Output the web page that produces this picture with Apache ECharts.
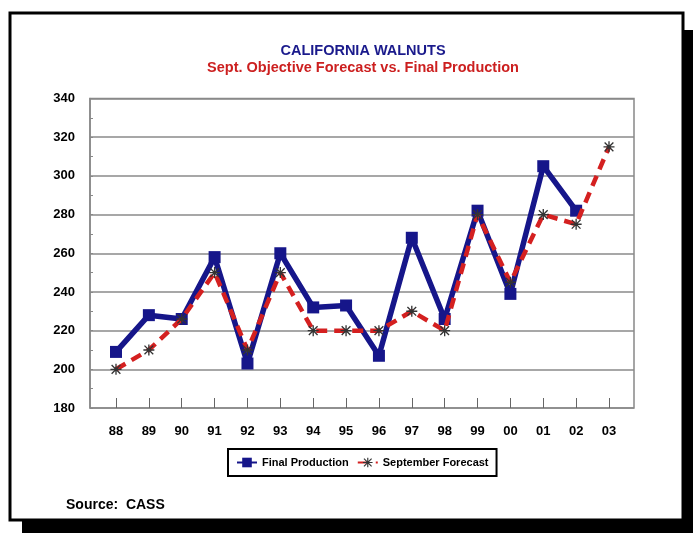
<!DOCTYPE html>
<html>
<head>
<meta charset="utf-8">
<script src="https://cdn.jsdelivr.net/npm/echarts@6/dist/echarts.min.js"></script>
<style>html,body{margin:0;padding:0;background:#fff;}#c{width:693px;height:533px;}</style>
</head>
<body>
<div id="c"></div>
<script>
const years = ['88','89','90','91','92','93','94','95','96','97','98','99','00','01','02','03'];
const finalProduction = [209, 228, 226, 258, 203, 260, 232, 233, 207, 268, 226, 282, 239, 305, 282, null];
const septemberForecast = [200, 210, 226, 250, 210, 250, 220, 220, 220, 230, 220, 280, 245, 280, 275, 315];
const yTicks = { min: 180, max: 340, step: 20 };

const FONT = 'Liberation Sans, Arial, sans-serif';
const starPath = 'path://M0,4.4 L10,4.4 L10,5.6 L0,5.6 Z M4.4,0 L5.6,0 L5.6,10 L4.4,10 Z M0.6,1.45 L1.45,0.6 L9.4,8.55 L8.55,9.4 Z M8.55,0.6 L9.4,1.45 L1.45,9.4 L0.6,8.55 Z';

const chart = echarts.init(document.getElementById('c'));
chart.setOption({
  animation: false,
  backgroundColor: '#fff',
  title: [
    { text: 'CALIFORNIA WALNUTS', left: 358, top: 38, textAlign: 'center',
      textStyle: { fontFamily: FONT, fontSize: 14.5, fontWeight: 'bold', color: '#1a1a8c' } },
    { text: 'Sept. Objective Forecast vs. Final Production', left: 358, top: 55, textAlign: 'center',
      textStyle: { fontFamily: FONT, fontSize: 14.5, fontWeight: 'bold', color: '#cc1f1f' } }
  ],
  graphic: [
    { type: 'rect', z: -20, shape: { x: 22, y: 30, width: 671, height: 503 }, style: { fill: '#000' } },
    { type: 'rect', z: -19, shape: { x: 10, y: 13, width: 673, height: 507 }, style: { fill: '#fff', stroke: '#000', lineWidth: 3 } },
    { type: 'text', z: 10, left: 66, top: 498, style: { text: 'Source:  CASS', font: 'bold 14px ' + FONT, fill: '#000' } }
  ],
  legend: {
    left: 228, top: 449,
    padding: [8, 8],
    itemGap: 8,
    itemWidth: 20, itemHeight: 12,
    borderColor: '#000', borderWidth: 2,
    backgroundColor: '#fff',
    textStyle: { fontFamily: FONT, fontSize: 11, fontWeight: 'bold', color: '#000' },
    data: ['Final Production', 'September Forecast']
  },
  grid: [
    { left: 90, right: 59, top: 98.5, bottom: 125, show: true, borderColor: '#888', borderWidth: 1.5, backgroundColor: '#fff' },
    { left: 116, right: 84, top: 98.5, bottom: 125 }
  ],
  xAxis: [
    { gridIndex: 0, type: 'value', min: 0, max: 1, show: false },
    { gridIndex: 1, type: 'category', data: years, boundaryGap: false,
      axisLine: { show: false },
      axisTick: { show: true, inside: true, length: 10, lineStyle: { color: '#666', width: 1 } },
      axisLabel: { margin: 17, fontFamily: FONT, fontSize: 13, fontWeight: 'bold', color: '#000' },
      splitLine: { show: false } }
  ],
  yAxis: [
    { gridIndex: 0, type: 'value', min: yTicks.min, max: yTicks.max, interval: yTicks.step,
      axisLine: { show: true, lineStyle: { color: '#888', width: 1.5 } },
      axisTick: { show: true, inside: true, length: 3, lineStyle: { color: '#888' } },
      minorTick: { show: true, splitNumber: 2, length: 3, lineStyle: { color: '#888' } },
      axisLabel: { margin: 15, fontFamily: FONT, fontSize: 13, fontWeight: 'bold', color: '#000' },
      splitLine: { show: true, lineStyle: { color: '#8a8a8a', width: 1.5 } } },
    { gridIndex: 1, type: 'value', min: yTicks.min, max: yTicks.max, show: false, splitLine: { show: false } }
  ],
  series: [
    { name: 'Final Production', type: 'line', xAxisIndex: 1, yAxisIndex: 1, data: finalProduction,
      symbol: 'rect', symbolSize: 12, z: 3,
      lineStyle: { color: '#16168a', width: 5.5 },
      itemStyle: { color: '#16168a' } },
    { name: 'September Forecast', type: 'line', xAxisIndex: 1, yAxisIndex: 1, data: septemberForecast,
      symbol: starPath, symbolSize: 11, z: 4,
      lineStyle: { color: '#d42020', width: 4.5, type: [11, 7] },
      itemStyle: { color: '#333' } }
  ]
});
</script>
</body>
</html>
